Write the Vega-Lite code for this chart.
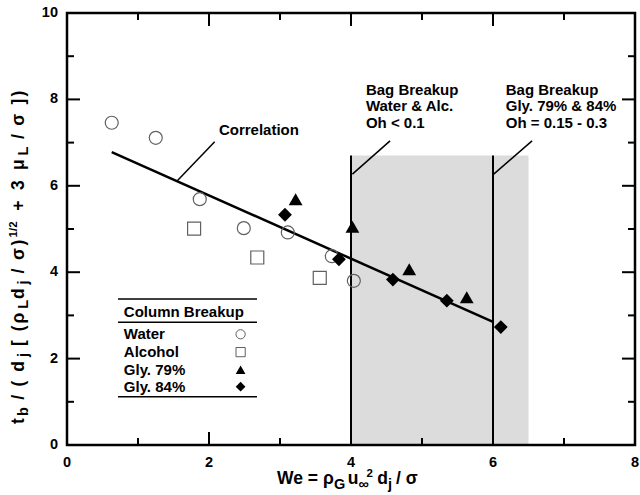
{
  "$schema": "https://vega.github.io/schema/vega-lite/v6.json",
  "width": 568,
  "height": 432,
  "autosize": {"type": "none"},
  "padding": {"left": 67, "top": 13, "right": 5, "bottom": 50},
  "background": "white",
  "config": {
    "view": {"stroke": null},
    "text": {"font": "Liberation Sans", "fontWeight": "bold", "color": "black"}
  },
  "datasets": {
    "bagZone": [{"from": 4, "to": 6.5, "base": 0, "top": 6.7}],
    "frame": [{"left": 0, "right": 8, "bottom": 0, "top": 10}],
    "bagLimits": [{"we": 4, "base": 0, "top": 6.7}, {"we": 6, "base": 0, "top": 6.7}],
    "xMajor": [{"v": 2}, {"v": 4}, {"v": 6}],
    "xMinor": [{"v": 1}, {"v": 3}, {"v": 5}, {"v": 7}],
    "yMajor": [{"v": 2}, {"v": 4}, {"v": 6}, {"v": 8}],
    "yMinor": [{"v": 1}, {"v": 3}, {"v": 5}, {"v": 7}, {"v": 9}],
    "xLabels": [{"v": 0}, {"v": 2}, {"v": 4}, {"v": 6}, {"v": 8}],
    "yLabels": [{"v": 0}, {"v": 2}, {"v": 4}, {"v": 6}, {"v": 8}, {"v": 10}],
    "correlation": [{"we": 0.63, "tb": 6.78}, {"we": 6.0, "tb": 2.85}],
    "leaders": [
      {"x1": 1.55, "y1": 6.11, "x2": 2.08, "y2": 7.02},
      {"x1": 4.02, "y1": 6.27, "x2": 4.55, "y2": 7.04},
      {"x1": 6.01, "y1": 6.27, "x2": 6.55, "y2": 7.04}
    ],
    "points": [
      {"fluid": "Water", "we": 0.63, "tb": 7.46},
      {"fluid": "Water", "we": 1.25, "tb": 7.11},
      {"fluid": "Water", "we": 1.87, "tb": 5.69},
      {"fluid": "Water", "we": 2.49, "tb": 5.02},
      {"fluid": "Water", "we": 3.11, "tb": 4.92},
      {"fluid": "Water", "we": 3.73, "tb": 4.37},
      {"fluid": "Water", "we": 4.04, "tb": 3.8},
      {"fluid": "Alcohol", "we": 1.79, "tb": 5.01},
      {"fluid": "Alcohol", "we": 2.68, "tb": 4.34},
      {"fluid": "Alcohol", "we": 3.56, "tb": 3.87},
      {"fluid": "Gly. 79%", "we": 3.22, "tb": 5.69},
      {"fluid": "Gly. 79%", "we": 4.02, "tb": 5.05},
      {"fluid": "Gly. 79%", "we": 4.82, "tb": 4.07},
      {"fluid": "Gly. 79%", "we": 5.63, "tb": 3.42},
      {"fluid": "Gly. 84%", "we": 3.07, "tb": 5.33},
      {"fluid": "Gly. 84%", "we": 3.83, "tb": 4.3},
      {"fluid": "Gly. 84%", "we": 4.59, "tb": 3.83},
      {"fluid": "Gly. 84%", "we": 5.35, "tb": 3.34},
      {"fluid": "Gly. 84%", "we": 6.11, "tb": 2.73}
    ],
    "notes": [
      {"t": "Correlation", "x": 2.14, "y": 7.29},
      {"t": "Bag Breakup", "x": 4.21, "y": 8.22},
      {"t": "Water & Alc.", "x": 4.21, "y": 7.84},
      {"t": "Oh < 0.1", "x": 4.21, "y": 7.45},
      {"t": "Bag Breakup", "x": 6.18, "y": 8.22},
      {"t": "Gly. 79% & 84%", "x": 6.18, "y": 7.84},
      {"t": "Oh = 0.15 - 0.3", "x": 6.18, "y": 7.45}
    ],
    "legendLines": [
      {"x1": 0.718, "x2": 2.676, "y": 3.38},
      {"x1": 0.718, "x2": 2.676, "y": 2.84},
      {"x1": 0.718, "x2": 2.676, "y": 1.118}
    ],
    "legendRows": [
      {"fluid": "Water", "ly": 2.563},
      {"fluid": "Alcohol", "ly": 2.15},
      {"fluid": "Gly. 79%", "ly": 1.74},
      {"fluid": "Gly. 84%", "ly": 1.35}
    ],
    "xTitle": [
      {"seg": "We = ρ", "role": "main", "x": 2.958, "y": -0.914},
      {"seg": "G", "role": "sub", "x": 3.759, "y": -1.007},
      {"seg": "u", "role": "main", "x": 3.953, "y": -0.914},
      {"seg": "∞", "role": "sub", "x": 4.104, "y": -1.007},
      {"seg": "2", "role": "sup", "x": 4.22, "y": -0.752},
      {"seg": "d", "role": "main", "x": 4.37, "y": -0.914},
      {"seg": "j", "role": "sub", "x": 4.521, "y": -1.007},
      {"seg": "/ σ", "role": "main", "x": 4.635, "y": -0.914}
    ],
    "yTitle": [
      {"seg": "t", "role": "main", "x": -0.606, "y": 0.486},
      {"seg": "b", "role": "sub", "x": -0.549, "y": 0.671},
      {"seg": "/", "role": "main", "x": -0.606, "y": 1.049},
      {"seg": "(", "role": "main", "x": -0.606, "y": 1.356},
      {"seg": "d", "role": "main", "x": -0.606, "y": 1.697},
      {"seg": "j", "role": "sub", "x": -0.549, "y": 2.035},
      {"seg": "[", "role": "main", "x": -0.606, "y": 2.292},
      {"seg": "(", "role": "main", "x": -0.606, "y": 2.632},
      {"seg": "ρ", "role": "main", "x": -0.606, "y": 2.815},
      {"seg": "L", "role": "sub", "x": -0.549, "y": 3.155},
      {"seg": "d", "role": "main", "x": -0.606, "y": 3.377},
      {"seg": "j", "role": "sub", "x": -0.549, "y": 3.718},
      {"seg": "/", "role": "main", "x": -0.606, "y": 3.972},
      {"seg": "σ", "role": "main", "x": -0.606, "y": 4.282},
      {"seg": ")", "role": "main", "x": -0.606, "y": 4.62},
      {"seg": "1/2", "role": "sup", "x": -0.704, "y": 4.806},
      {"seg": "+", "role": "main", "x": -0.606, "y": 5.424},
      {"seg": "3", "role": "main", "x": -0.606, "y": 5.9},
      {"seg": "μ", "role": "main", "x": -0.606, "y": 6.363},
      {"seg": "L", "role": "sub", "x": -0.549, "y": 6.704},
      {"seg": "/", "role": "main", "x": -0.606, "y": 7.081},
      {"seg": "σ", "role": "main", "x": -0.606, "y": 7.389},
      {"seg": "]", "role": "main", "x": -0.606, "y": 7.884},
      {"seg": ")", "role": "main", "x": -0.606, "y": 8.067}
    ]
  },
  "layer": [
    {
      "data": {"name": "bagZone"},
      "mark": {"type": "rect", "color": "#dcdcdc"},
      "encoding": {
        "x": {"field": "from", "type": "quantitative", "scale": {"domain": [0, 8], "nice": false, "zero": false}, "axis": null},
        "x2": {"field": "to"},
        "y": {"field": "base", "type": "quantitative", "scale": {"domain": [0, 10], "nice": false, "zero": false}, "axis": null},
        "y2": {"field": "top"}
      }
    },
    {
      "data": {"name": "bagLimits"},
      "mark": {"type": "rule", "color": "black", "strokeWidth": 2},
      "encoding": {
        "x": {"field": "we", "type": "quantitative", "axis": null},
        "y": {"field": "base", "type": "quantitative", "axis": null},
        "y2": {"field": "top"}
      }
    },
    {
      "data": {"name": "frame"},
      "mark": {"type": "rect", "fillOpacity": 0, "stroke": "black", "strokeWidth": 2.5},
      "encoding": {
        "x": {"field": "left", "type": "quantitative", "axis": null},
        "x2": {"field": "right"},
        "y": {"field": "bottom", "type": "quantitative", "axis": null},
        "y2": {"field": "top"}
      }
    },
    {
      "data": {"name": "xMajor"},
      "mark": {"type": "tick", "orient": "vertical", "color": "black", "thickness": 2, "size": 26, "opacity": 1, "clip": true},
      "encoding": {
        "x": {"field": "v", "type": "quantitative", "axis": null},
        "y": {"datum": 0, "type": "quantitative", "axis": null}
      }
    },
    {
      "data": {"name": "xMajor"},
      "mark": {"type": "tick", "orient": "vertical", "color": "black", "thickness": 2, "size": 26, "opacity": 1, "clip": true},
      "encoding": {
        "x": {"field": "v", "type": "quantitative", "axis": null},
        "y": {"datum": 10, "type": "quantitative", "axis": null}
      }
    },
    {
      "data": {"name": "xMinor"},
      "mark": {"type": "tick", "orient": "vertical", "color": "black", "thickness": 2, "size": 14, "opacity": 1, "clip": true},
      "encoding": {
        "x": {"field": "v", "type": "quantitative", "axis": null},
        "y": {"datum": 0, "type": "quantitative", "axis": null}
      }
    },
    {
      "data": {"name": "xMinor"},
      "mark": {"type": "tick", "orient": "vertical", "color": "black", "thickness": 2, "size": 14, "opacity": 1, "clip": true},
      "encoding": {
        "x": {"field": "v", "type": "quantitative", "axis": null},
        "y": {"datum": 10, "type": "quantitative", "axis": null}
      }
    },
    {
      "data": {"name": "yMajor"},
      "mark": {"type": "tick", "orient": "horizontal", "color": "black", "thickness": 2, "size": 26, "opacity": 1, "clip": true},
      "encoding": {
        "y": {"field": "v", "type": "quantitative", "axis": null},
        "x": {"datum": 0, "type": "quantitative", "axis": null}
      }
    },
    {
      "data": {"name": "yMajor"},
      "mark": {"type": "tick", "orient": "horizontal", "color": "black", "thickness": 2, "size": 26, "opacity": 1, "clip": true},
      "encoding": {
        "y": {"field": "v", "type": "quantitative", "axis": null},
        "x": {"datum": 8, "type": "quantitative", "axis": null}
      }
    },
    {
      "data": {"name": "yMinor"},
      "mark": {"type": "tick", "orient": "horizontal", "color": "black", "thickness": 2, "size": 14, "opacity": 1, "clip": true},
      "encoding": {
        "y": {"field": "v", "type": "quantitative", "axis": null},
        "x": {"datum": 0, "type": "quantitative", "axis": null}
      }
    },
    {
      "data": {"name": "yMinor"},
      "mark": {"type": "tick", "orient": "horizontal", "color": "black", "thickness": 2, "size": 14, "opacity": 1, "clip": true},
      "encoding": {
        "y": {"field": "v", "type": "quantitative", "axis": null},
        "x": {"datum": 8, "type": "quantitative", "axis": null}
      }
    },
    {
      "data": {"name": "xLabels"},
      "mark": {"type": "text", "align": "center", "baseline": "middle", "fontSize": 14.5},
      "encoding": {
        "x": {"field": "v", "type": "quantitative", "axis": null},
        "y": {"datum": -0.417, "type": "quantitative", "axis": null},
        "text": {"field": "v", "type": "quantitative", "format": "d"}
      }
    },
    {
      "data": {"name": "yLabels"},
      "mark": {"type": "text", "align": "right", "baseline": "middle", "fontSize": 14.5},
      "encoding": {
        "x": {"datum": -0.127, "type": "quantitative", "axis": null},
        "y": {"field": "v", "type": "quantitative", "axis": null},
        "text": {"field": "v", "type": "quantitative", "format": "d"}
      }
    },
    {
      "data": {"name": "correlation"},
      "mark": {"type": "line", "color": "black", "strokeWidth": 2.5},
      "encoding": {
        "x": {"field": "we", "type": "quantitative", "axis": null},
        "y": {"field": "tb", "type": "quantitative", "axis": null}
      }
    },
    {
      "data": {"name": "leaders"},
      "mark": {"type": "rule", "color": "black", "strokeWidth": 1.5},
      "encoding": {
        "x": {"field": "x1", "type": "quantitative", "axis": null},
        "y": {"field": "y1", "type": "quantitative", "axis": null},
        "x2": {"field": "x2"},
        "y2": {"field": "y2"}
      }
    },
    {
      "data": {"name": "points"},
      "transform": [{"filter": "datum.fluid === 'Water' || datum.fluid === 'Alcohol'"}],
      "mark": {"type": "point", "filled": false, "stroke": "#606060", "strokeWidth": 1.2, "opacity": 1, "size": 169},
      "encoding": {
        "x": {"field": "we", "type": "quantitative", "axis": null},
        "y": {"field": "tb", "type": "quantitative", "axis": null},
        "shape": {"field": "fluid", "type": "nominal", "legend": null,
                  "scale": {"domain": ["Water", "Alcohol", "Gly. 79%", "Gly. 84%"], "range": ["circle", "square", "triangle-up", "diamond"]}}
      }
    },
    {
      "data": {"name": "points"},
      "transform": [{"filter": "datum.fluid === 'Gly. 79%' || datum.fluid === 'Gly. 84%'"}],
      "mark": {"type": "point", "filled": true, "fill": "black", "opacity": 1, "size": 190},
      "encoding": {
        "x": {"field": "we", "type": "quantitative", "axis": null},
        "y": {"field": "tb", "type": "quantitative", "axis": null},
        "shape": {"field": "fluid", "type": "nominal", "legend": null}
      }
    },
    {
      "data": {"name": "notes"},
      "mark": {"type": "text", "align": "left", "baseline": "middle", "fontSize": 15},
      "encoding": {
        "x": {"field": "x", "type": "quantitative", "axis": null},
        "y": {"field": "y", "type": "quantitative", "axis": null},
        "text": {"field": "t"}
      }
    },
    {
      "data": {"name": "legendLines"},
      "mark": {"type": "rule", "color": "black", "strokeWidth": 1.5},
      "encoding": {
        "x": {"field": "x1", "type": "quantitative", "axis": null},
        "x2": {"field": "x2"},
        "y": {"field": "y", "type": "quantitative", "axis": null}
      }
    },
    {
      "data": {"values": [{"t": "Column Breakup"}]},
      "mark": {"type": "text", "align": "left", "baseline": "middle", "fontSize": 15},
      "encoding": {
        "x": {"datum": 0.8, "type": "quantitative", "axis": null},
        "y": {"datum": 3.086, "type": "quantitative", "axis": null},
        "text": {"field": "t"}
      }
    },
    {
      "data": {"name": "legendRows"},
      "mark": {"type": "text", "align": "left", "baseline": "middle", "fontSize": 15},
      "encoding": {
        "x": {"datum": 0.8, "type": "quantitative", "axis": null},
        "y": {"field": "ly", "type": "quantitative", "axis": null},
        "text": {"field": "fluid"}
      }
    },
    {
      "data": {"name": "legendRows"},
      "transform": [{"filter": "datum.fluid === 'Water' || datum.fluid === 'Alcohol'"}],
      "mark": {"type": "point", "filled": false, "stroke": "#606060", "strokeWidth": 1, "opacity": 1, "size": 85},
      "encoding": {
        "x": {"datum": 2.445, "type": "quantitative", "axis": null},
        "y": {"field": "ly", "type": "quantitative", "axis": null},
        "shape": {"field": "fluid", "type": "nominal", "legend": null}
      }
    },
    {
      "data": {"name": "legendRows"},
      "transform": [{"filter": "datum.fluid === 'Gly. 79%' || datum.fluid === 'Gly. 84%'"}],
      "mark": {"type": "point", "filled": true, "fill": "black", "opacity": 1, "size": 95},
      "encoding": {
        "x": {"datum": 2.445, "type": "quantitative", "axis": null},
        "y": {"field": "ly", "type": "quantitative", "axis": null},
        "shape": {"field": "fluid", "type": "nominal", "legend": null}
      }
    },
    {
      "data": {"name": "xTitle"},
      "mark": {"type": "text", "align": "left", "baseline": "alphabetic"},
      "encoding": {
        "x": {"field": "x", "type": "quantitative", "axis": null},
        "y": {"field": "y", "type": "quantitative", "axis": null},
        "text": {"field": "seg"},
        "size": {"field": "role", "type": "nominal", "legend": null,
                 "scale": {"domain": ["main", "sub", "sup"], "range": [17.5, 11.5, 10.5]}}
      }
    },
    {
      "data": {"name": "yTitle"},
      "mark": {"type": "text", "align": "left", "baseline": "alphabetic", "angle": 270},
      "encoding": {
        "x": {"field": "x", "type": "quantitative", "axis": null},
        "y": {"field": "y", "type": "quantitative", "axis": null},
        "text": {"field": "seg"},
        "size": {"field": "role", "type": "nominal", "legend": null}
      }
    }
  ]
}
